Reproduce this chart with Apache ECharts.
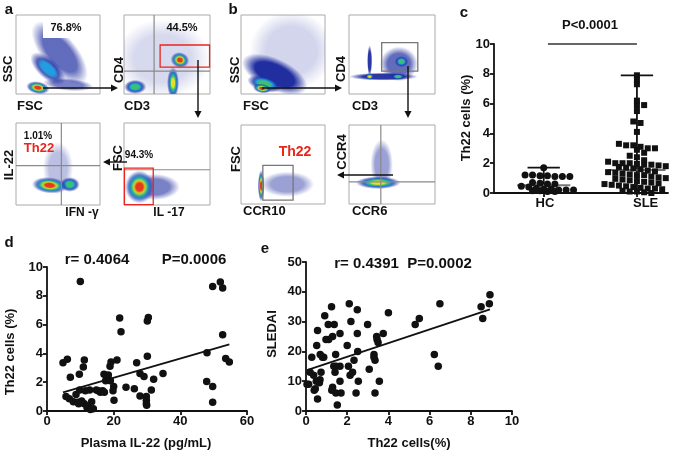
<!DOCTYPE html>
<html>
<head>
<meta charset="utf-8">
<script src="https://cdn.jsdelivr.net/npm/echarts@6/dist/echarts.min.js"></script>
<style>
html,body{margin:0;padding:0;background:#fff;}
#main{width:685px;height:455px;}
</style>
</head>
<body>
<div id="main"></div>
<script>
var FONT = '"Liberation Sans", Arial, sans-serif';

// panel c: Th22 cells (%)
var hcValues = [1.7,1.2,1.2,1.15,1.15,1.1,1.1,1.1,0.7,0.65,0.6,0.6,0.45,0.4,0.3,0.25,0.25,0.2,0.2,0.2,0.15,0.15,0.1,0.1];
var sleValues = [7.9,7.6,7.3,6.2,5.9,5.9,5.5,4.8,4.7,4.1,3.3,3.2,3.2,3.1,3.0,3.0,2.9,2.7,2.5,2.4,
  2.2,2.1,2.0,2.0,2.0,1.95,1.9,1.9,1.85,1.8,1.8,1.75,1.7,1.65,1.6,
  1.5,1.45,1.4,1.35,1.3,1.25,1.2,1.2,1.1,1.05,1.0,1.0,0.95,0.9,0.85,0.8,0.75,0.7,0.65,0.6,0.55,0.5,0.45,0.4,0.35,0.3,0.3,0.25,0.2,0.2,0.15,0.1,0.1,0.05,0.0];
var groupNames = ['HC', 'SLE'];
var groupPos = [2, 5.75];
var groupLabelPos = [2.05, 6.1];

// panel d: plasma IL-22 vs Th22
var il22 = [10.0,4.8,6.1,7.0,9.7,10.9,11.2,5.7,6.7,7.9,8.7,9.2,9.8,10.4,11.2,12.0,12.4,13.4,13.9,13.0,12.8,15.4,16.7,17.1,17.6,18.4,19.0,18.9,19.2,20.0,20.1,21.0,19.8,21.8,22.2,23.7,26.2,26.9,27.9,29.1,30.1,30.4,30.1,31.3,29.8,29.8,29.8,29.9,27.9,32.0,34.8,48.0,47.9,49.7,49.7,49.7,52.0,52.7,52.7,53.6,54.7,14.8,16.0,17.2,11.5,9.5];
var th22D = [9.0,3.35,3.6,2.35,2.55,3.05,3.55,1.0,0.85,0.65,1.15,0.6,1.45,0.7,0.5,0.25,0.3,0.65,0.15,0.1,1.45,1.4,1.4,2.55,2.1,2.5,2.1,3.1,3.4,1.7,0.75,3.55,1.4,6.45,5.5,1.65,1.55,3.35,2.6,2.4,3.8,6.5,6.25,1.45,1.0,0.75,0.5,0.4,1.05,2.2,2.6,4.05,2.05,1.7,0.6,8.65,8.95,8.55,5.3,3.65,3.4,1.45,1.3,1.3,1.4,0.5];

// panel e: Th22 vs SLEDAI
var th22E = [0.28,0.13,0.37,0.4,0.45,0.52,0.56,0.56,0.68,0.65,0.69,0.73,0.86,0.91,0.97,1.08,1.24,1.29,1.37,1.44,1.41,1.29,1.25,1.45,1.52,1.46,1.65,1.65,1.65,1.7,2.0,2.06,2.1,2.18,2.14,2.26,2.33,2.43,2.49,2.49,2.51,2.54,2.99,3.07,3.3,3.35,3.35,3.43,3.45,3.5,3.56,3.75,4.0,5.3,5.5,6.23,6.42,6.5,8.5,8.58,8.9,8.93,0.05,0.2,0.8,1.1,0.5,1.35,3.3];
var sledai = [18,9,12,7,7.5,22,27,4,10.5,9.5,19,13,18,32,24,29,35,25,29,19,13,8,7,6,2,15,15,26,10,6,22,15,36,30,12,13,17,6,34,26,20,10,29,14,19,17,6,25,24,23,10,26,33,29,31,19,15,36,35,31,36,39,9,13,18,24,10,15,18];

// flow populations: [cx, cy, rx, ry, angle, levels, alpha] in 0-100 plot units
var popA1 = [[52,52,46,22,50,1,0.7],[62,12,30,8,5,1,0.6],[38,32,26,13,42,2,0.8],[26,8,14,8,10,5,0.95]];
var popA2 = [[45,45,55,50,0,1,0.18],[13,9,13,9,0,3,0.95],[57,14,7,20,0,4,0.95],[65,43,11,10,15,5,0.95]];
var popA3 = [[50,45,18,32,0,1,0.3],[64,25,12,9,0,3,0.95],[40,24,21,10,5,5,0.95]];
var popA4 = [[35,22,30,16,0,1,0.6],[18,22,17,20,0,5,0.95]];
var popB1 = [[60,55,50,50,0,1,0.2],[40,25,42,20,25,1,1],[28,13,21,10,15,3,0.95],[25,7,11,6,10,5,0.95]];
var popB2 = [[58,38,22,22,0,1,0.7],[40,22,40,5,0,1,0.95],[24,42,3,20,0,1,0.95],[24,22,5,4,0,4,0.95],[57,22,8,4,0,3,0.95],[61,41,8,7,0,3,0.95]];
var popB3 = [[55,25,32,16,0,1,0.45],[24,23,4,20,0,5,0.95]];
var popB4 = [[38,50,13,32,0,1,0.45],[34,27,26,8,0,4,0.95]];

// gates: [kind, a, b, c, d]  kind 0 = vertical line, 1 = horizontal line, 2 = red box, 3 = grey box
var gateA2 = [[0,35,0,0,0],[1,29,0,0,0],[2,42,34,99.5,62]];
var gateA3 = [[0,54,0,0,0],[1,48,0,0,0]];
var gateA4 = [[1,43,0,0,0],[2,0.5,0.5,34,45]];
var gateB2 = [[3,38,29,80,65]];
var gateB3 = [[3,26,5,62,49]];
var gateB4 = [[0,37,0,0,0],[1,28,0,0,0]];

var flowColors = [[32,46,160],[33,160,228],[60,196,106],[238,226,30],[229,50,28]];

var chart = echarts.init(document.getElementById('main'));

function rgba(c, a) { return 'rgba(' + c[0] + ',' + c[1] + ',' + c[2] + ',' + a + ')'; }

function blobItem(params, api) {
  var c = api.coord([api.value(0), api.value(1)]);
  var s = api.size([api.value(2), api.value(3)]);
  var lev = api.value(5), a = api.value(6);
  var kids = [];
  for (var k = 0; k < lev; k++) {
    var f = 1 - k * 0.75 / lev;
    var al = k == 0 ? a : 0.95;
    var col = flowColors[k];
    kids.push({
      type: 'circle',
      shape: {cx: 0, cy: 0, r: s[0] * f},
      scaleY: s[1] / s[0],
      style: {fill: new echarts.graphic.RadialGradient(0.5, 0.5, 0.5, [
        {offset: 0, color: rgba(col, al)},
        {offset: 0.6, color: rgba(col, al)},
        {offset: 1, color: rgba(col, 0)}
      ])}
    });
  }
  return {type: 'group', x: c[0], y: c[1], rotation: -api.value(4) * Math.PI / 180, children: kids};
}

function gateItem(params, api) {
  var kind = api.value(0);
  var p, q;
  if (kind == 0) {
    p = api.coord([api.value(1), 0]); q = api.coord([api.value(1), 100]);
    return {type: 'line', shape: {x1: p[0], y1: p[1], x2: q[0], y2: q[1]}, style: {stroke: '#8a8a8a', lineWidth: 1.2}};
  }
  if (kind == 1) {
    p = api.coord([0, api.value(1)]); q = api.coord([100, api.value(1)]);
    return {type: 'line', shape: {x1: p[0], y1: p[1], x2: q[0], y2: q[1]}, style: {stroke: '#8a8a8a', lineWidth: 1.2}};
  }
  p = api.coord([api.value(1), api.value(4)]); q = api.coord([api.value(3), api.value(2)]);
  return {type: 'rect', shape: {x: p[0], y: p[1], width: q[0] - p[0], height: q[1] - p[1]},
    style: {fill: 'none', stroke: kind == 2 ? '#e8261c' : '#777', lineWidth: 1.3}};
}

var flowPanels = [
  {box: [16, 15, 84, 79], pops: popA1, gates: []},
  {box: [124, 15, 86, 79], pops: popA2, gates: gateA2},
  {box: [16, 123, 84, 82], pops: popA3, gates: gateA3},
  {box: [124, 123, 86, 82], pops: popA4, gates: gateA4},
  {box: [241, 15, 84, 79], pops: popB1, gates: []},
  {box: [349, 15, 86, 79], pops: popB2, gates: gateB2},
  {box: [241, 125, 84, 79], pops: popB3, gates: gateB3},
  {box: [349, 125, 86, 79], pops: popB4, gates: gateB4}
];

var grids = [], xAxes = [], yAxes = [], series = [];
flowPanels.forEach(function (fp, i) {
  grids.push({left: fp.box[0], top: fp.box[1], width: fp.box[2], height: fp.box[3],
    show: true, borderColor: '#aaa', borderWidth: 1, backgroundColor: '#fff'});
  xAxes.push({gridIndex: i, type: 'value', min: 0, max: 100, show: false});
  yAxes.push({gridIndex: i, type: 'value', min: 0, max: 100, show: false});
  series.push({type: 'custom', xAxisIndex: i, yAxisIndex: i, clip: true, silent: true,
    renderItem: blobItem, data: fp.pops});
  if (fp.gates.length) {
    series.push({type: 'custom', xAxisIndex: i, yAxisIndex: i, clip: false, silent: true,
      renderItem: gateItem, data: fp.gates, z: 5});
  }
});

// common axis styling for c, d, e
var axLine = {lineStyle: {color: '#111', width: 1.8}};
var axTick = {length: 4, lineStyle: {color: '#111', width: 1.8}};
var axLabel = {color: '#111', fontWeight: 'bold', fontSize: 13, fontFamily: FONT, margin: 4};

// panel c: simple dot-plot layout, points sharing a row are spread sideways
function swarm(values, center, bin, gap) {
  var rows = {}, out = [];
  values.forEach(function (v) {
    var k = Math.round(v / bin);
    (rows[k] = rows[k] || []).push(v);
  });
  Object.keys(rows).forEach(function (k) {
    var r = rows[k];
    var shift = (k % 2) ? gap / 2 : 0;
    if (r.length == 1) shift = 0;
    r.forEach(function (v, j) { out.push([center + (j - (r.length - 1) / 2) * gap + shift, v]); });
  });
  return out;
}
function median(v) {
  var s = v.slice().sort(function (a, b) { return a - b; });
  var n = s.length;
  return n % 2 ? s[(n - 1) / 2] : (s[n / 2 - 1] + s[n / 2]) / 2;
}
var gc = grids.length;
grids.push({left: 494, top: 44, width: 174, height: 149});
xAxes.push({gridIndex: gc, type: 'value', min: 0, max: 7, splitLine: {show: false},
  axisLine: axLine, axisTick: Object.assign({customValues: groupPos}, axTick),
  axisLabel: Object.assign({customValues: groupLabelPos, margin: 8, formatter: function (v) { return groupNames[groupLabelPos.indexOf(v)] || ''; }}, axLabel)});
yAxes.push({gridIndex: gc, type: 'value', min: 0, max: 10, interval: 2, splitLine: {show: false},
  axisLine: {show: true, lineStyle: axLine.lineStyle}, axisTick: axTick, axisLabel: axLabel});

var summary = [hcValues, sleValues].map(function (v, i) {
  return [groupPos[i], Math.min.apply(null, v), median(v), Math.max.apply(null, v), i];
});
series.push({type: 'custom', xAxisIndex: gc, yAxisIndex: gc, z: 1, silent: true, data: summary,
  renderItem: function (params, api) {
    var x = api.value(0), i = api.value(4);
    var medW = i == 0 ? 1.07 : 1.15, capW = 0.65;
    var lo = api.coord([x, api.value(1)]), hi = api.coord([x, api.value(3)]);
    var m1 = api.coord([x - medW, api.value(2)]), m2 = api.coord([x + medW, api.value(2)]);
    var c1 = api.coord([x - capW, api.value(3)]), c2 = api.coord([x + capW, api.value(3)]);
    return {type: 'group', children: [
      {type: 'line', shape: {x1: lo[0], y1: lo[1], x2: hi[0], y2: hi[1]}, style: {stroke: '#111', lineWidth: 1.8}},
      {type: 'line', shape: {x1: c1[0], y1: c1[1], x2: c2[0], y2: c2[1]}, style: {stroke: '#111', lineWidth: 1.8}},
      {type: 'line', shape: {x1: m1[0], y1: m1[1], x2: m2[0], y2: m2[1]}, style: {stroke: '#777', lineWidth: 2}, z2: 10}
    ]};
  }});
series.push({type: 'scatter', xAxisIndex: gc, yAxisIndex: gc, symbol: 'circle', symbolSize: 7,
  itemStyle: {color: '#111', opacity: 1}, data: swarm(hcValues, groupPos[0], 0.35, 0.3),
  markLine: {silent: true, symbol: 'none', label: {show: false}, lineStyle: {color: '#333', width: 1.6, type: 'solid'},
    data: [[{coord: [2.17, 10]}, {coord: [5.75, 10]}]]}});
series.push({type: 'scatter', xAxisIndex: gc, yAxisIndex: gc, symbol: 'rect', symbolSize: 6,
  itemStyle: {color: '#111', opacity: 1}, data: swarm(sleValues, groupPos[1], 0.4, 0.29)});

// linear fit
function fit(xs, ys) {
  var n = xs.length, mx = 0, my = 0, sxy = 0, sxx = 0;
  for (var i = 0; i < n; i++) { mx += xs[i] / n; my += ys[i] / n; }
  for (i = 0; i < n; i++) { sxy += (xs[i] - mx) * (ys[i] - my); sxx += (xs[i] - mx) * (xs[i] - mx); }
  var b = sxy / sxx, a = my - b * mx;
  var x0 = Math.min.apply(null, xs), x1 = Math.max.apply(null, xs);
  return [[x0, a + b * x0], [x1, a + b * x1]];
}
function zip(xs, ys) { return xs.map(function (x, i) { return [x, ys[i]]; }); }

// panel d
var gd = grids.length;
grids.push({left: 47, top: 267, width: 200, height: 144});
xAxes.push({gridIndex: gd, type: 'value', min: 0, max: 60, interval: 20, splitLine: {show: false},
  axisLine: axLine, axisTick: axTick, axisLabel: axLabel});
yAxes.push({gridIndex: gd, type: 'value', min: 0, max: 10, interval: 2, splitLine: {show: false},
  axisLine: {show: true, lineStyle: axLine.lineStyle}, axisTick: axTick, axisLabel: axLabel});
series.push({type: 'scatter', xAxisIndex: gd, yAxisIndex: gd, symbolSize: 7.5, itemStyle: {color: '#111', opacity: 1}, data: zip(il22, th22D)});
series.push({type: 'line', xAxisIndex: gd, yAxisIndex: gd, showSymbol: false, silent: true,
  lineStyle: {color: '#111', width: 1.8}, data: fit(il22, th22D)});

// panel e
var ge = grids.length;
grids.push({left: 306, top: 262, width: 206, height: 149});
xAxes.push({gridIndex: ge, type: 'value', min: 0, max: 10, interval: 2, splitLine: {show: false},
  axisLine: axLine, axisTick: axTick, axisLabel: axLabel});
yAxes.push({gridIndex: ge, type: 'value', min: 0, max: 50, interval: 10, splitLine: {show: false},
  axisLine: {show: true, lineStyle: axLine.lineStyle}, axisTick: axTick, axisLabel: axLabel});
series.push({type: 'scatter', xAxisIndex: ge, yAxisIndex: ge, symbolSize: 7.5, itemStyle: {color: '#111', opacity: 1}, data: zip(th22E, sledai)});
series.push({type: 'line', xAxisIndex: ge, yAxisIndex: ge, showSymbol: false, silent: true,
  lineStyle: {color: '#111', width: 1.8}, data: fit(th22E, sledai)});

// annotations
var graphics = [];
function txt(x, y, s, size, opt) {
  opt = opt || {};
  graphics.push({type: 'text', x: x, y: y, rotation: opt.rot ? Math.PI / 2 : 0, z: 100,
    style: {text: s, fill: opt.color || '#111', font: 'bold ' + size + 'px ' + FONT,
      align: opt.align || 'center', verticalAlign: 'middle'}});
}
function arrow(x1, y1, x2, y2) {
  var dx = x2 - x1, dy = y2 - y1, L = Math.sqrt(dx * dx + dy * dy), ux = dx / L, uy = dy / L;
  var h = 7, w = 3.5;
  var bx = x2 - ux * h, by = y2 - uy * h;
  graphics.push({type: 'line', z: 100, shape: {x1: x1, y1: y1, x2: bx, y2: by}, style: {stroke: '#111', lineWidth: 1.4}});
  graphics.push({type: 'polygon', z: 100, shape: {points: [[x2, y2], [bx - uy * w, by + ux * w], [bx + uy * w, by - ux * w]]}, style: {fill: '#111'}});
}
graphics.push({type: 'rect', z: 90, shape: {x: 43, y: 16, width: 45, height: 22}, style: {fill: '#fff'}});

// panel letters
txt(9, 10, 'a', 15); txt(233, 10, 'b', 15); txt(464, 13, 'c', 15); txt(9, 243, 'd', 15); txt(265, 249, 'e', 15);
// panel a texts
txt(8, 69, 'SSC', 13, {rot: 1}); txt(17, 106, 'FSC', 13, {align: 'left'});
txt(119, 70, 'CD4', 13, {rot: 1}); txt(124, 106, 'CD3', 13, {align: 'left'});
txt(9, 165, 'IL-22', 13, {rot: 1}); txt(82, 213, 'IFN -\u03b3', 12);
txt(118, 158, 'FSC', 13, {rot: 1}); txt(169, 213, 'IL -17', 12);
txt(66, 28, '76.8%', 11); txt(182, 28, '44.5%', 11); txt(38, 136, '1.01%', 10);
txt(39, 148, 'Th22', 13, {color: '#e8261c'}); txt(139, 155, '94.3%', 10);
// panel b texts
txt(235, 70, 'SSC', 13, {rot: 1}); txt(243, 106, 'FSC', 13, {align: 'left'});
txt(341, 69, 'CD4', 13, {rot: 1}); txt(352, 106, 'CD3', 13, {align: 'left'});
txt(236, 159, 'FSC', 13, {rot: 1}); txt(243, 211, 'CCR10', 13, {align: 'left'});
txt(342, 152, 'CCR4', 13, {rot: 1}); txt(352, 211, 'CCR6', 13, {align: 'left'});
txt(295, 152, 'Th22', 14, {color: '#e8261c'});
// panel c texts
txt(590, 25, 'P<0.0001', 13); txt(466, 118, 'Th22 cells (%)', 13, {rot: 1});
// panel d texts
txt(97, 260, 'r= 0.4064', 15); txt(194, 260, 'P=0.0006', 15);
txt(10, 352, 'Th22 cells (%)', 13, {rot: 1}); txt(146, 443, 'Plasma IL-22 (pg/mL)', 13);
// panel e texts
txt(403, 264, 'r= 0.4391  P=0.0002', 15);
txt(272, 334, 'SLEDAI', 13, {rot: 1}); txt(409, 443, 'Th22 cells(%)', 13);

arrow(43, 88, 118, 88); arrow(198, 60, 198, 118); arrow(127, 162, 103, 162);
arrow(262, 88, 342, 88); arrow(408, 66, 408, 118); arrow(393, 175, 337, 175);

chart.setOption({
  animation: false,
  backgroundColor: '#fff',
  grid: grids,
  xAxis: xAxes,
  yAxis: yAxes,
  series: series,
  graphic: graphics
});
</script>
</body>
</html>
